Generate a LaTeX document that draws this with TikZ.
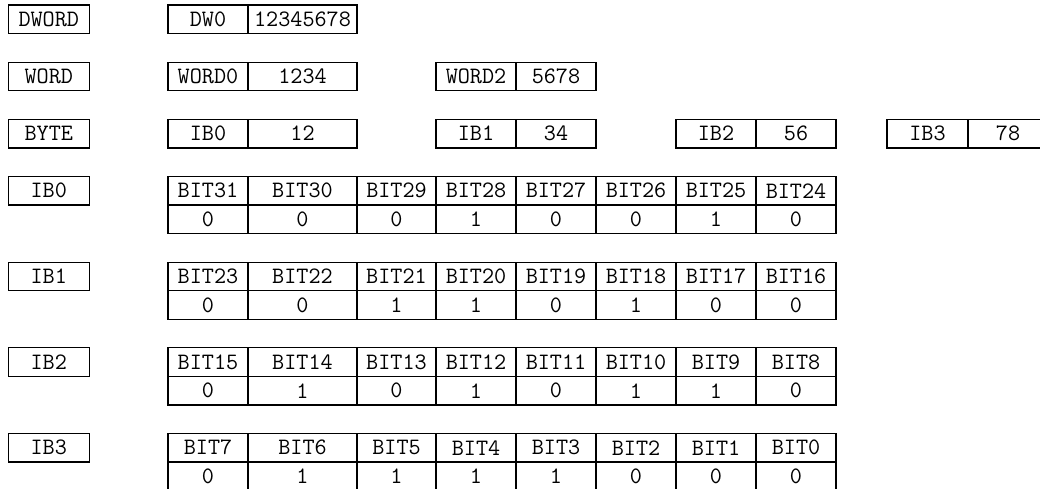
\documentclass[tikz,border=0pt]{standalone}
\usepackage{fontspec}
\begin{document}
\begin{tikzpicture}[x=1pt,y=-1pt,
  cell/.style={draw=black, line width=1.2pt, anchor=north west, inner sep=0pt, outer sep=0pt,
    minimum height=28.6pt, font=\fontsize{23.5}{24}\selectfont\ttfamily},
  lab/.style={cell, minimum width=81pt}]
\clip (0,0) rectangle (1040,488);
% left labels
\node[lab] (lDWORD) at (8.3,5) {DWORD};
\node[lab] (lWORD) at (8.3,62.2) {WORD};
\node[lab] (lBYTE) at (8.3,119.3) {BYTE};
\node[lab] (lIB0) at (8.3,176.4) {IB0};
\node[lab] (lIB1) at (8.3,262.1) {IB1};
\node[lab] (lIB2) at (8.3,347.8) {IB2};
\node[lab] (lIB3) at (8.3,433.4) {IB3};
% DWORD row
\node[cell, minimum width=80pt] (dwa) at (168,5) {DW0};
\node[cell, minimum width=109pt] (dwb) at (248,5) {12345678};
% WORD row
\node[cell, minimum width=80pt] (w0a) at (168,62.2) {WORD0};
\node[cell, minimum width=109pt] (w0b) at (248,62.2) {1234};
\node[cell, minimum width=80pt] (w2a) at (436,62.2) {WORD2};
\node[cell, minimum width=80pt] (w2b) at (516,62.2) {5678};
% BYTE row
\node[cell, minimum width=80pt] (b0a) at (168,119.3) {IB0};
\node[cell, minimum width=109pt] (b0b) at (248,119.3) {12};
\node[cell, minimum width=80pt] (b1a) at (436,119.3) {IB1};
\node[cell, minimum width=80pt] (b1b) at (516,119.3) {34};
\node[cell, minimum width=80pt] (b2a) at (676,119.3) {IB2};
\node[cell, minimum width=80pt] (b2b) at (756,119.3) {56};
\node[cell, minimum width=81pt] (b3a) at (887,119.3) {IB3};
\node[cell, minimum width=80pt] (b3b) at (968,119.3) {78};
% bit tables
\foreach \x/\w/\b [count=\i from 0] in {168/80/0,248/109/0,357/79/0,436/80/1,516/80/0,596/80/0,676/80/1,756/80/0}{
  \pgfmathtruncatemacro\n{31-\i}
  \node[cell, minimum width=\w pt] (tah\i) at (\x,176.4) {BIT\n};
  \node[cell, minimum width=\w pt] (tav\i) at (\x,205) {\b};
}
\foreach \x/\w/\b [count=\i from 0] in {168/80/0,248/109/0,357/79/1,436/80/1,516/80/0,596/80/1,676/80/0,756/80/0}{
  \pgfmathtruncatemacro\n{23-\i}
  \node[cell, minimum width=\w pt] (tbh\i) at (\x,262.1) {BIT\n};
  \node[cell, minimum width=\w pt] (tbv\i) at (\x,290.7) {\b};
}
\foreach \x/\w/\b [count=\i from 0] in {168/80/0,248/109/1,357/79/0,436/80/1,516/80/0,596/80/1,676/80/1,756/80/0}{
  \pgfmathtruncatemacro\n{15-\i}
  \node[cell, minimum width=\w pt] (tch\i) at (\x,347.8) {BIT\n};
  \node[cell, minimum width=\w pt] (tcv\i) at (\x,376.4) {\b};
}
\foreach \x/\w/\b [count=\i from 0] in {168/80/0,248/109/1,357/79/1,436/80/1,516/80/1,596/80/0,676/80/0,756/80/0}{
  \pgfmathtruncatemacro\n{7-\i}
  \node[cell, minimum width=\w pt] (tdh\i) at (\x,433.4) {BIT\n};
  \node[cell, minimum width=\w pt] (tdv\i) at (\x,462) {\b};
}
\end{tikzpicture}
\end{document}
